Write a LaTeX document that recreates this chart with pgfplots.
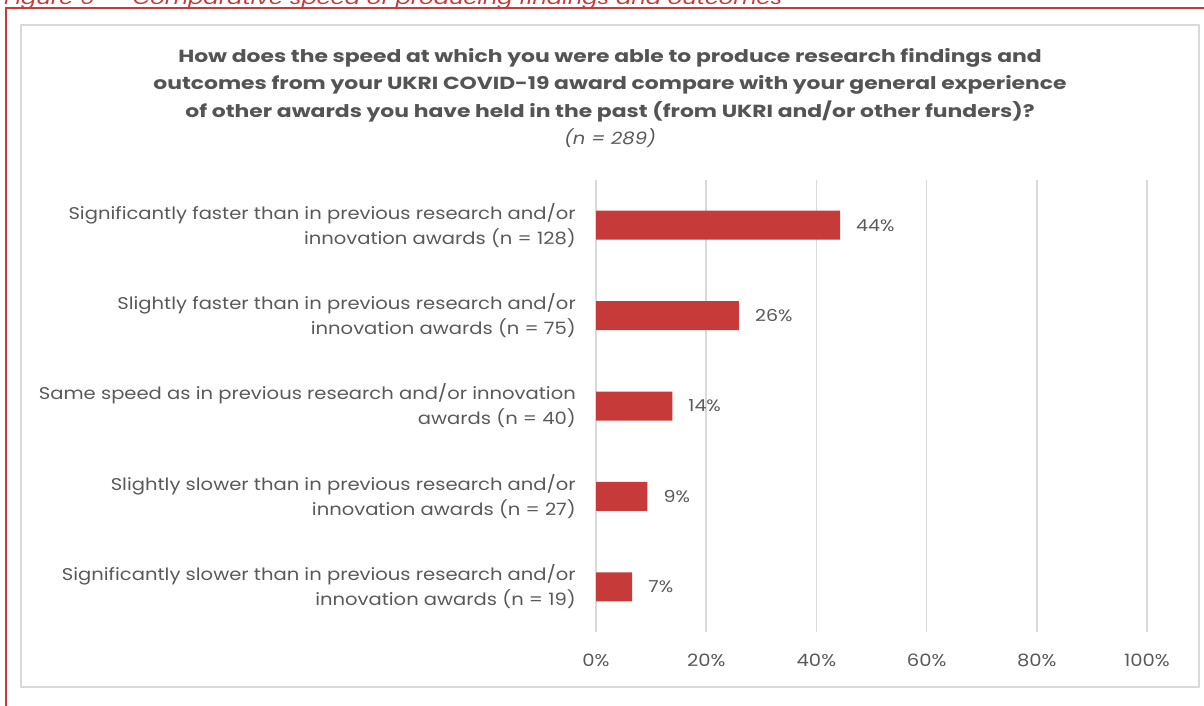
\documentclass[border=0pt]{standalone}
\usepackage{pgfplots}
\pgfplotsset{compat=1.18}
\usepackage{fontspec}
\setmainfont{Poppins}[FakeStretch=1.15]
\newfontfamily\titlefont{Poppins}[FakeStretch=1.25]
\definecolor{barred}{RGB}{198,58,58}
\definecolor{txt}{RGB}{89,89,89}
\definecolor{ttl}{RGB}{84,84,84}
\definecolor{gridc}{RGB}{217,217,217}
\begin{document}
\begin{tikzpicture}[x=1pt,y=1pt]
\useasboundingbox (0,0) rectangle (1204,-706);
\node[anchor=base west, inner sep=0, text=barred, font=\titlefont\fontsize{18.1}{20}\selectfont\itshape] at (4,-5) {Figure 6 -- Comparative speed of producing findings and outcomes};
\draw[barred, line width=2pt] (6,-760) -- (6,-8.5) -- (1260,-8.5);
\draw[gridc, line width=1.5pt] (21,-25) rectangle (1199,-687);
\begin{scope}[every node/.style={anchor=base, inner sep=0, text=ttl}]
\node[font=\titlefont\fontsize{17.5}{20}\selectfont\bfseries] at (610,-62.5) {How does the speed at which you were able to produce research findings and};
\node[font=\titlefont\fontsize{17.5}{20}\selectfont\bfseries] at (610,-90) {outcomes from your UKRI COVID-19 award compare with your general experience};
\node[font=\titlefont\fontsize{17.5}{20}\selectfont\bfseries] at (610,-117.5) {of other awards you have held in the past (from UKRI and/or other funders)?};
\node[font=\fontsize{17}{20}\selectfont\itshape, text=txt] at (610,-144) {(n = 289)};
\end{scope}
\begin{axis}[
  at={(596pt,-632pt)}, anchor=south west, scale only axis,
  width=551pt, height=452pt,
  xmin=0, xmax=100, ymin=-0.5, ymax=4.5, y dir=reverse,
  xbar, bar width=29pt,
  axis line style={draw=none}, major tick length=0pt,
  xmajorgrids, grid style={gridc, line width=1.5pt},
  xtick={0,20,...,100},
  /pgf/number format/assume math mode=true,
  xticklabel={\pgfmathprintnumber{\tick}\%},
  xticklabel style={font=\fontsize{17}{18}\selectfont, text=txt, inner sep=0pt, yshift=-22pt},
  ytick={0,1,2,3,4},
  yticklabels={{Significantly faster than in previous research and/or\\innovation awards (n = 128)},
               {Slightly faster than in previous research and/or\\innovation awards (n = 75)},
               {Same speed as in previous research and/or innovation\\awards (n = 40)},
               {Slightly slower than in previous research and/or\\innovation awards (n = 27)},
               {Significantly slower than in previous research and/or\\innovation awards (n = 19)}},
  yticklabel style={align=right, font=\fontsize{17}{25}\selectfont, text=txt, inner sep=0pt, xshift=-20pt},
  point meta=x,
  nodes near coords={\pgfmathprintnumber[fixed,precision=0]{\pgfplotspointmeta}\%},
  nodes near coords style={font=\fontsize{16.5}{18}\selectfont, text=txt, inner sep=0pt, xshift=16pt, anchor=west},
]
\addplot[fill=barred, draw=none] coordinates {(44.29,0) (25.95,1) (13.84,2) (9.34,3) (6.57,4)};
\end{axis}
\end{tikzpicture}
\end{document}
